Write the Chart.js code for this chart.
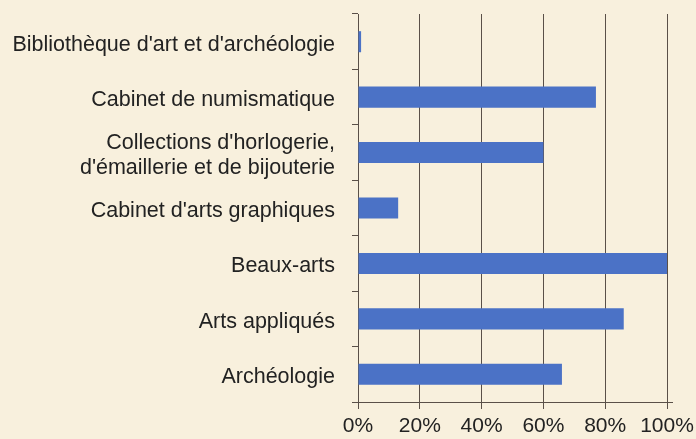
<!DOCTYPE html>
<html>
<head>
<meta charset="utf-8">
<script src="https://cdn.jsdelivr.net/npm/chart.js@4/dist/chart.umd.min.js"></script>
<style>
  body { margin: 0; background: #f8f0dd; }
  #wrap { width: 696px; height: 439px; }
</style>
</head>
<body>
<div id="wrap"><canvas id="museeChart"></canvas></div>
<script>
const categories = [
    "Bibliothèque d'art et d'archéologie",
    "Cabinet de numismatique",
    ["Collections d'horlogerie,", "d'émaillerie et de bijouterie"],
    "Cabinet d'arts graphiques",
    "Beaux-arts",
    "Arts appliqués",
    "Archéologie"
];
const shares = [1, 77, 60, 13, 100, 86, 66];
const xTicks = [0, 20, 40, 60, 80, 100];

const ctx = document.getElementById("museeChart").getContext("2d");

// the bottom axis line runs a little past 100%
const axisTail = {
    id: "axisTail",
    afterDraw(chart) {
        const a = chart.chartArea;
        const c = chart.ctx;
        c.save();
        c.strokeStyle = "#5a5048";
        c.lineWidth = 1;
        c.beginPath();
        c.moveTo(a.right, Math.round(a.bottom) + 0.5);
        c.lineTo(a.right + 6, Math.round(a.bottom) + 0.5);
        c.stroke();
        c.restore();
    }
};

const museeChart = new Chart(ctx, {
    type: "bar",
    data: {
        labels: categories,
        datasets: [{
            data: shares,
            backgroundColor: "#4b72c6",
            borderWidth: 0,
            categoryPercentage: 1,
            barPercentage: 0.38
        }]
    },
    options: {
        indexAxis: "y",
        responsive: true,
        maintainAspectRatio: false,
        animation: false,
        layout: { padding: { top: 14, right: 29, left: 0, bottom: 0 } },
        plugins: { legend: { display: false }, tooltip: { enabled: false } },
        scales: {
            x: {
                min: 0,
                max: 100,
                afterBuildTicks: (scale) => {
                    scale.ticks = xTicks.map(v => ({ value: v }));
                },
                afterFit: (scale) => {
                    scale.height = 37;
                    scale.paddingLeft = 0;
                    scale.paddingRight = 0;
                },
                ticks: {
                    callback: (v) => v + "%",
                    color: "#222",
                    padding: 5,
                    font: { family: "Liberation Sans, Arial", size: 21 }
                },
                grid: { color: "#5a5048", lineWidth: 1, tickLength: 7 },
                border: { color: "#5a5048", width: 1 }
            },
            y: {
                afterFit: (scale) => {
                    scale.width = 358;
                    scale.paddingTop = 0;
                    scale.paddingBottom = 0;
                },
                ticks: {
                    autoSkip: false,
                    color: "#222",
                    padding: 17,
                    labelOffset: 3,
                    font: { family: "Liberation Sans, Arial", size: 21.5, lineHeight: 1.17 }
                },
                grid: { drawOnChartArea: false, offset: true, color: "#5a5048", tickLength: 6 },
                border: { color: "#5a5048", width: 1 }
            }
        }
    },
    plugins: [axisTail]
});
</script>
</body>
</html>
